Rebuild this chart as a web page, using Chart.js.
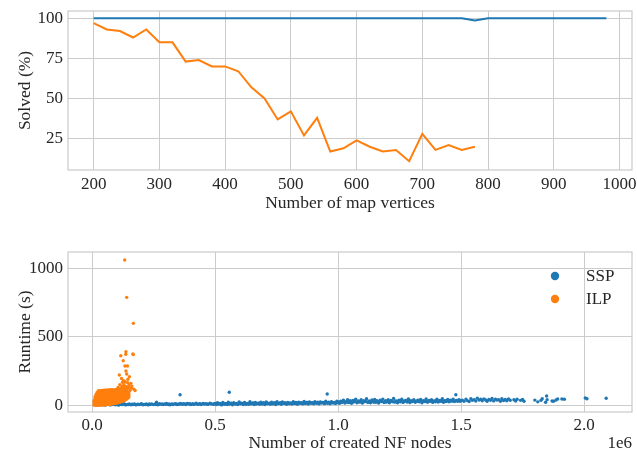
<!DOCTYPE html>
<html>
<head>
<meta charset="utf-8">
<script src="https://cdn.jsdelivr.net/npm/chart.js@4"></script>
<style>
  body { margin: 0; background: #fff; }
  canvas { display: block; }
</style>
</head>
<body>
<canvas id="graficoResolvidos" width="637" height="220"></canvas>
<canvas id="graficoTempo" width="637" height="231"></canvas>
<script>
// top chart: share of solved instances per map size
const mapVertices = [200, 220, 240, 260, 280, 300, 320, 340, 360, 380, 400, 420, 440, 460, 480,
  500, 520, 540, 560, 580, 600, 620, 640, 660, 680, 700, 720, 740, 760, 780,
  800, 820, 840, 860, 880, 900, 920, 940, 960, 980]
const sspSolved = [100, 100, 100, 100, 100, 100, 100, 100, 100, 100, 100, 100, 100, 100, 100,
  100, 100, 100, 100, 100, 100, 100, 100, 100, 100, 100, 100, 100, 100, 98.6,
  100, 100, 100, 100, 100, 100, 100, 100, 100, 100]
const ilpSolved = [97, 93, 92, 88, 93, 85, 85, 73, 74, 70, 70, 67, 57, 50, 37,
  42, 27, 38, 17, 19, 24, 20, 17, 18, 11, 28, 18, 21, 18, 20]
const verticesTicks = [200, 300, 400, 500, 600, 700, 800, 900, 1000]
const solvedTicks = [25, 50, 75, 100]

// bottom chart: runtime vs created NF nodes (nodes in thousands, runtime in s)
const sspRuns = [
  [20,2],[26,6],[33,3],[40,8],[47,4],[54,2],[60,9],[67,5],[74,3],[81,7],[88,10],[95,4],[102,6],[109,2],
  [116,8],[123,5],[130,11],[137,3],[144,7],[151,9],[158,4],[165,6],[172,10],[179,3],[186,8],[193,5],
  [200,12],[207,4],[214,7],[221,9],[228,3],[235,6],[242,10],[249,5],[256,8],[262,22],[268,4],[275,11],
  [282,7],[289,5],[296,9],[303,13],[310,6],[317,4],[324,10],[331,8],[338,12],[345,5],[352,9],[358,77],
  [360,14],[367,7],[374,11],[381,6],[388,13],[395,9],[402,5],[409,12],[416,8],[423,15],[430,7],[437,11],
  [444,6],[451,14],[458,9],[465,12],[472,7],[479,16],[486,10],[493,8],[500,13],
  [23,5],[37,6],[50,5],[64,7],[78,5],[92,7],[106,4],[120,7],[134,6],[148,5],[162,8],[176,6],[190,7],
  [204,8],[218,5],[232,9],[246,7],[260,6],[272,8],[286,10],[300,7],[314,9],[328,6],[342,9],[356,7],
  [370,10],[384,9],[398,11],[412,7],[426,10],[440,9],[454,11],[468,8],[482,12],[496,10],
  [506,5],[510,18],[516,9],[521,14],[527,3],[532,20],[538,8],[543,12],[549,6],[554,22],[558,95],[560,10],
  [565,15],[571,4],[576,19],[582,9],[587,13],[593,6],[598,24],[604,11],[609,16],[615,5],[620,21],[626,8],
  [631,14],[637,7],[642,26],[648,10],[653,17],[659,5],[664,20],[670,12],[675,15],[681,7],[686,23],[692,9],
  [697,18],[703,6],[708,25],[714,11],[719,14],[725,8],[730,22],[736,10],[741,19],[747,6],[752,27],[758,12],
  [763,16],[769,8],[774,24],[780,13],[785,18],[791,7],[796,21],[802,11],[807,17],[813,9],[818,26],[824,12],
  [829,20],[835,8],[840,23],[846,14],[851,18],[857,10],[862,28],[868,13],[873,21],[879,9],[884,25],[890,15],
  [895,19],[901,11],[906,27],[912,14],[917,22],[923,10],[928,24],[934,16],[939,20],[945,12],[950,29],[956,82],
  [957,15],[962,23],[968,11],[973,26],[979,17],[984,21],[990,13],[995,30],[1000,18],
  [503,10],[513,12],[524,8],[535,14],[546,11],[557,9],[568,13],[579,12],[590,10],[601,15],[612,12],[623,14],
  [634,11],[645,13],[656,15],[667,9],[678,16],[689,13],[700,12],[711,17],[722,15],[733,13],[744,16],[755,14],
  [766,18],[777,15],[788,13],[799,17],[810,14],[821,19],[832,16],[843,18],[854,15],[865,17],[876,20],[887,18],
  [898,16],[909,19],[920,17],[931,21],[942,18],[953,20],[964,17],[975,22],[986,19],[997,23],
  [1006,14],[1011,30],[1017,22],[1022,38],[1028,17],[1033,27],[1039,41],[1044,20],[1050,33],[1055,15],
  [1061,36],[1066,25],[1072,44],[1077,19],[1083,31],[1088,23],[1094,40],[1099,16],[1105,34],[1110,27],
  [1116,48],[1121,21],[1127,32],[1132,18],[1138,39],[1143,26],[1149,43],[1154,22],[1160,30],[1165,17],
  [1171,37],[1176,28],[1182,45],[1187,20],[1193,33],[1198,24],[1204,41],[1209,19],[1215,35],[1220,29],
  [1226,50],[1231,23],[1237,32],[1242,18],[1248,38],[1253,26],[1259,44],[1264,21],[1270,31],[1275,36],
  [1281,24],[1286,47],[1292,20],[1297,34],[1303,28],[1308,41],[1314,22],[1319,30],[1325,37],[1330,25],
  [1336,43],[1341,19],[1347,33],[1352,27],[1358,46],[1363,23],[1369,35],[1374,29],[1380,40],[1385,21],
  [1391,32],[1396,26],[1402,44],[1407,24],[1413,36],[1418,30],[1424,48],[1429,22],[1435,34],[1440,28],
  [1446,42],[1451,25],[1457,37],[1462,31],[1468,45],[1473,27],[1479,77],[1481,36],[1486,29],[1492,41],[1498,33],
  [1003,24],[1014,20],[1025,28],[1036,22],[1047,26],[1058,21],[1069,30],[1080,24],[1091,27],[1102,22],
  [1113,31],[1124,25],[1135,28],[1146,23],[1157,33],[1168,26],[1179,29],[1190,24],[1201,31],[1212,27],
  [1223,25],[1234,30],[1245,28],[1256,32],[1267,26],[1278,30],[1289,33],[1300,27],[1311,31],[1322,29],
  [1333,34],[1344,28],[1355,31],[1366,26],[1377,33],[1388,30],[1399,35],[1410,29],[1421,32],[1432,31],
  [1443,35],[1454,30],[1465,33],[1476,31],[1487,35],[1496,30],
  [1505,38],[1512,30],[1520,45],[1526,34],[1533,28],[1540,48],[1546,36],[1553,41],[1560,31],[1566,52],
  [1573,38],[1580,44],[1586,33],[1593,47],[1600,39],[1606,29],[1613,43],[1620,36],[1626,50],[1633,32],
  [1640,45],[1646,38],[1653,41],[1660,30],[1666,48],[1673,35],[1680,42],[1686,33],[1693,46],[1700,37],
  [1715,40],[1722,31],[1728,44],[1742,36],[1750,42],[1756,30],[1800,38],[1812,25],[1825,36],[1830,48],
  [1844,22],[1848,68],[1850,41],[1870,31],[1876,29],[1886,39],[1893,46],[1910,46],[1920,44],
  [2005,53],[2012,48],[2090,51]
]
// dense ILP cluster, listed per node count: [nodes, [runtimes]]
const ilpCluster = [
  [8,[2,17,33]],
  [12,[1,15,30,46,60]],
  [16,[3,18,33,48,63,78]],
  [20,[1,16,31,46,61,76,91]],
  [25,[2,17,32,47,62,77,92,104]],
  [30,[3,18,33,48,63,78,93,107]],
  [35,[1,16,31,46,61,76,91,106]],
  [40,[4,19,34,49,64,79,94,109]],
  [45,[2,17,32,47,62,77,92,108]],
  [50,[5,20,35,50,65,80,95,110]],
  [55,[3,18,33,48,63,78,93,111]],
  [60,[6,21,36,51,66,81,96,110]],
  [65,[5,20,35,50,65,80,95,112]],
  [70,[8,23,38,53,68,83,98,111]],
  [75,[7,22,37,52,67,82,97,113]],
  [80,[10,25,40,55,70,85,100,112]],
  [85,[12,27,42,57,72,87,102,114]],
  [90,[13,28,43,58,73,88,103,111]],
  [95,[15,30,45,60,75,90,105,113]],
  [100,[17,32,47,62,77,92,107,115]],
  [105,[19,34,49,64,79,94,109]],
  [110,[22,37,52,67,82,97,112]],
  [115,[24,39,54,69,84,99,114]],
  [120,[27,42,57,72,87,102,116]],
  [125,[30,45,60,75,90,105,118]],
  [130,[34,49,64,79,94,109]],
  [135,[38,53,68,83,98,112]],
  [140,[44,59,74,89,104]],
  [145,[52,67,82,97]],
  [150,[60,75,90]]
]
const ilpOutliers = [
  [106,130],[111,221],[113,150],[117,362],[118,125],[120,196],[122,140],[124,168],[127,326],[128,180],
  [130,150],[131,132],[133,1061],[134,287],[135,172],[136,128],[137,372],[138,391],[138,250],[140,135],
  [141,788],[141,228],[143,118],[144,287],[145,165],[146,190],[148,130],[150,145],[152,209],[155,110],
  [158,160],[160,125],[162,140],[166,374],[168,598],[168,370],[170,118],[175,108]
]
const nodesTicks = [0, 500, 1000, 1500, 2000]
const runtimeTicks = [0, 500, 1000]

const azul = '#1f77b4'
const laranja = '#ff7f0e'
const corTexto = '#262626'
const corGrade = '#cccccc'
const fonte = { family: "'Liberation Serif', 'DejaVu Serif', serif", size: 17 }
const fonteTitulo = { family: "'Liberation Serif', 'DejaVu Serif', serif", size: 17.5, lineHeight: 1 }

Chart.defaults.font.family = fonte.family
Chart.defaults.color = corTexto

const moldura = {
  id: 'moldura',
  afterDatasetsDraw(chart) {
    const { ctx, chartArea } = chart
    ctx.save()
    ctx.strokeStyle = corGrade
    ctx.lineWidth = 1.25
    ctx.strokeRect(chartArea.left, chartArea.top, chartArea.right - chartArea.left, chartArea.bottom - chartArea.top)
    ctx.restore()
  }
}

function fixaTicks(valores) {
  return (scale) => { scale.ticks = valores.map(v => ({ value: v })) }
}

function eixo(min, max, valores, titulo, tamanho) {
  return {
    type: 'linear',
    min: min,
    max: max,
    afterBuildTicks: fixaTicks(valores),
    afterFit: (s) => {
      if (s.isHorizontal()) s.height = tamanho
      else s.width = tamanho
      s.paddingLeft = 0
      s.paddingRight = 0
      s.paddingTop = 0
      s.paddingBottom = 0
    },
    grid: { color: corGrade, lineWidth: 1, drawTicks: false },
    border: { display: false },
    ticks: { font: fonte, color: corTexto, callback: (v) => String(v) },
    title: { display: true, text: titulo, font: fonteTitulo, color: corTexto }
  }
}

const elementoResolvidos = document.querySelector('#graficoResolvidos')

const graficoResolvidos = new Chart(elementoResolvidos, {
  type: 'line',
  data: {
    datasets: [{
      label: 'SSP',
      data: mapVertices.map((v, i) => ({ x: v, y: sspSolved[i] })),
      borderColor: azul,
      borderWidth: 2,
      pointRadius: 0
    }, {
      label: 'ILP',
      data: mapVertices.slice(0, ilpSolved.length).map((v, i) => ({ x: v, y: ilpSolved[i] })),
      borderColor: laranja,
      borderWidth: 2,
      pointRadius: 0
    }]
  },
  options: {
    responsive: false,
    animation: false,
    events: [],
    layout: { padding: { top: 11, right: 5, left: 0, bottom: 0 } },
    plugins: { legend: { display: false }, tooltip: { enabled: false } },
    scales: {
      x: eixo(161, 1019, verticesTicks, 'Number of map vertices', 50),
      y: eixo(5.5, 104.5, solvedTicks, 'Solved (%)', 68)
    }
  },
  plugins: [moldura]
})
graficoResolvidos.options.scales.x.ticks.padding = 4
graficoResolvidos.options.scales.x.title.padding = { top: 0, bottom: 7.5 }
graficoResolvidos.options.scales.y.ticks.padding = 5
graficoResolvidos.options.scales.y.title.padding = { top: 16.5, bottom: 0 }
graficoResolvidos.update()

const legenda = {
  id: 'legenda',
  afterDraw(chart) {
    const { ctx, chartArea } = chart
    ctx.save()
    chart.data.datasets.forEach((ds, i) => {
      const y = chartArea.top + 24 + i * 23
      ctx.fillStyle = ds.pointBackgroundColor
      ctx.beginPath()
      ctx.arc(chartArea.right - 77, y, 4.2, 0, Math.PI * 2)
      ctx.fill()
      ctx.fillStyle = corTexto
      ctx.font = `${fonte.size}px ${fonte.family}`
      ctx.textBaseline = 'middle'
      ctx.textAlign = 'left'
      ctx.fillText(ds.label, chartArea.right - 46, y + 1)
    })
    // offset text of the x axis
    ctx.font = `${fonte.size}px ${fonte.family}`
    ctx.textAlign = 'right'
    ctx.textBaseline = 'middle'
    ctx.fillText('1e6', chartArea.right, chart.height - 7)
    ctx.restore()
  }
}

const pontosIlp = []
ilpCluster.forEach(([n, tempos]) => tempos.forEach(t => pontosIlp.push({ x: n, y: t })))
ilpOutliers.forEach(([n, t]) => pontosIlp.push({ x: n, y: t }))

const elementoTempo = document.querySelector('#graficoTempo')

const graficoTempo = new Chart(elementoTempo, {
  type: 'scatter',
  data: {
    datasets: [{
      label: 'SSP',
      data: sspRuns.map(([n, t]) => ({ x: n, y: t })),
      pointBackgroundColor: azul,
      pointBorderWidth: 0,
      pointRadius: 1.7,
      order: 1
    }, {
      label: 'ILP',
      data: pontosIlp,
      pointBackgroundColor: laranja,
      pointBorderWidth: 0,
      pointRadius: 1.7,
      order: 0
    }]
  },
  options: {
    responsive: false,
    animation: false,
    events: [],
    layout: { padding: { top: 32, right: 5, left: 0, bottom: 0 } },
    plugins: { legend: { display: false }, tooltip: { enabled: false } },
    scales: {
      x: eixo(-97.6, 2195, nodesTicks, 'Number of created NF nodes', 39),
      y: eixo(-49, 1119, runtimeTicks, 'Runtime (s)', 68)
    }
  },
  plugins: [moldura, legenda]
})
graficoTempo.options.scales.x.ticks.padding = 3
graficoTempo.options.scales.x.ticks.callback = (v) => (v / 1000).toFixed(1)
graficoTempo.options.scales.x.title.padding = { top: 0, bottom: -1 }
graficoTempo.options.scales.y.ticks.padding = 5
graficoTempo.options.scales.y.title.padding = { top: 16.5, bottom: 0 }
graficoTempo.update()
</script>
</body>
</html>
